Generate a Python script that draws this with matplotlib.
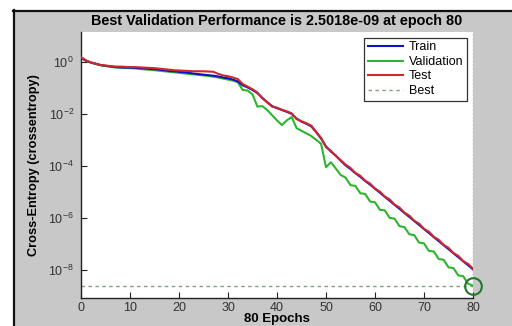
import matplotlib
matplotlib.use("Agg")
import matplotlib.pyplot as plt
import numpy as np
from matplotlib.patches import Rectangle
from matplotlib.lines import Line2D

plt.rcParams['font.family'] = ['Liberation Sans', 'DejaVu Sans']
plt.rcParams['mathtext.fontset'] = 'custom'
plt.rcParams['mathtext.rm'] = 'Liberation Sans'
plt.rcParams['mathtext.default'] = 'regular'

epochs = list(range(0, 81))

# log10 of cross-entropy
train_log10 = [0.17, 0.05, -0.02, -0.07, -0.12, -0.15, -0.17, -0.20, -0.21, -0.22,
               -0.22, -0.23, -0.24, -0.25, -0.27, -0.28, -0.30, -0.32, -0.35, -0.36,
               -0.38, -0.40, -0.42, -0.45, -0.47, -0.49, -0.51, -0.53, -0.56, -0.60,
               -0.63, -0.68, -0.75, -0.90, -0.98, -1.08, -1.20, -1.38, -1.55, -1.70,
               -1.78, -1.85, -1.92, -2.00, -2.18, -2.30, -2.38, -2.48, -2.70, -2.95,
               -3.25, -3.45, -3.60, -3.80, -3.98, -4.12, -4.28, -4.42, -4.58, -4.72,
               -4.88, -5.03, -5.19, -5.34, -5.50, -5.65, -5.81, -5.96, -6.12, -6.27,
               -6.43, -6.58, -6.74, -6.89, -7.05, -7.20, -7.36, -7.51, -7.67, -7.82,
               -7.98]
validation_log10 = [0.15, 0.04, -0.03, -0.08, -0.13, -0.16, -0.19, -0.21, -0.22, -0.23,
                    -0.24, -0.25, -0.27, -0.29, -0.30, -0.32, -0.34, -0.36, -0.38, -0.40,
                    -0.42, -0.44, -0.46, -0.48, -0.50, -0.52, -0.54, -0.57, -0.60, -0.64,
                    -0.68, -0.72, -0.78, -1.08, -1.10, -1.25, -1.72, -1.70, -1.85, -2.05,
                    -2.25, -2.43, -2.25, -2.12, -2.55, -2.65, -2.75, -2.85, -3.00, -3.15,
                    -4.05, -3.86, -4.10, -4.35, -4.45, -4.74, -4.77, -5.05, -5.08, -5.37,
                    -5.40, -5.69, -5.71, -6.00, -6.03, -6.32, -6.35, -6.63, -6.66, -6.95,
                    -6.98, -7.27, -7.29, -7.58, -7.61, -7.90, -7.93, -8.21, -8.24, -8.53,
                    -8.60]
test_log10 = [0.18, 0.06, -0.02, -0.07, -0.12, -0.14, -0.16, -0.18, -0.18, -0.19,
              -0.20, -0.20, -0.21, -0.22, -0.23, -0.24, -0.26, -0.28, -0.30, -0.32,
              -0.33, -0.34, -0.35, -0.36, -0.36, -0.36, -0.37, -0.38, -0.46, -0.52,
              -0.55, -0.60, -0.66, -0.85, -0.95, -1.05, -1.18, -1.40, -1.55, -1.72,
              -1.76, -1.84, -1.90, -1.98, -2.20, -2.28, -2.36, -2.45, -2.70, -2.92,
              -3.28, -3.42, -3.62, -3.78, -3.95, -4.08, -4.27, -4.38, -4.57, -4.68,
              -4.87, -4.99, -5.18, -5.29, -5.49, -5.60, -5.80, -5.91, -6.11, -6.22,
              -6.42, -6.53, -6.73, -6.84, -7.04, -7.15, -7.35, -7.46, -7.66, -7.77,
              -7.95]

best_epoch = 80
best_value = 2.5018e-09

x_ticks = [0, 10, 20, 30, 40, 50, 60, 70, 80]
y_ticks = [1e0, 1e-2, 1e-4, 1e-6, 1e-8]
y_tick_labels = ['$10^{0}$', '$10^{-2}$', '$10^{-4}$', '$10^{-6}$', '$10^{-8}$']

W, H = 512, 326
fig = plt.figure(figsize=(W / 100, H / 100), dpi=100)
gray = '#c8c8c8'
fig.patch.set_facecolor(gray)
# white margins and black border of the screenshot frame
fig.patches.append(Rectangle((0, 1 - 10 / H), 1, 10 / H, transform=fig.transFigure,
                             facecolor='white', edgecolor='none', zorder=0))
fig.patches.append(Rectangle((0, 0), 13 / W, 1, transform=fig.transFigure,
                             facecolor='white', edgecolor='none', zorder=0))
fig.lines.append(Line2D([13 / W, 1], [1 - 10.5 / H, 1 - 10.5 / H], transform=fig.transFigure,
                        color='#111111', lw=1.6))
fig.lines.append(Line2D([13.5 / W, 13.5 / W], [0, 1 - 10 / H], transform=fig.transFigure,
                        color='#111111', lw=1.6))

ax = fig.add_axes([81 / W, 1 - 298 / H, (473 - 81) / W, (298 - 32) / H])
ax.set_facecolor('white')

train = [10 ** v for v in train_log10]
validation = [10 ** v for v in validation_log10]
test = [10 ** v for v in test_log10]

ax.semilogy(epochs, train, color='#1010c8', lw=1.5, label='Train', zorder=3)
ax.semilogy(epochs, validation, color='#2cb52c', lw=1.5, label='Validation', zorder=2)
ax.semilogy(epochs, test, color='#d02828', lw=1.5, label='Test', zorder=4)
best_col = '#7fa37f'
ax.axhline(best_value, color=best_col, lw=1.0, ls=(0, (2.5, 2.5)), label='Best', zorder=1)
ax.axvline(best_epoch, color='#555555', lw=0.9, ls=(0, (1.5, 1.5)), zorder=1)
ax.plot([best_epoch], [best_value], 'o', ms=12, mfc='none', mec='#1f7a2a', mew=1.5,
        clip_on=False, zorder=5)

ax.set_xlim(0, 80)
ax.set_ylim(10 ** -9.08, 10 ** 1.15)
ax.set_xticks(x_ticks)
ax.set_xticklabels([str(t) for t in x_ticks])
ax.set_yticks(y_ticks)
ax.set_yticklabels(y_tick_labels)
ax.minorticks_off()
ax.tick_params(direction='in', length=4, width=0.8, labelsize=9, colors='#222222',
               labelcolor='#333333', top=False, right=False)
ax.tick_params(axis='x', pad=3)
ax.tick_params(axis='y', pad=5)
for s in ['top', 'right']:
    ax.spines[s].set_visible(False)
for s in ['left', 'bottom']:
    ax.spines[s].set_color('#222222')
    ax.spines[s].set_linewidth(1.0)

ax.set_title('Best Validation Performance is 2.5018e-09 at epoch 80',
             fontsize=10.4, fontweight='bold', pad=5)
ax.set_xlabel('80 Epochs', fontsize=9.5, fontweight='bold', labelpad=-0.5)
ax.set_ylabel('Cross-Entropy (crossentropy)', fontsize=9.2, fontweight='bold', labelpad=6)

leg = ax.legend(loc='upper right', fontsize=9, frameon=True, fancybox=False,
                edgecolor='#333333', framealpha=1, borderpad=0.3, labelspacing=0.2,
                handlelength=2.8, handletextpad=0.5, borderaxespad=0.45)
leg.get_frame().set_linewidth(0.9)

fig.savefig('out.png', dpi=100, facecolor=fig.get_facecolor())
